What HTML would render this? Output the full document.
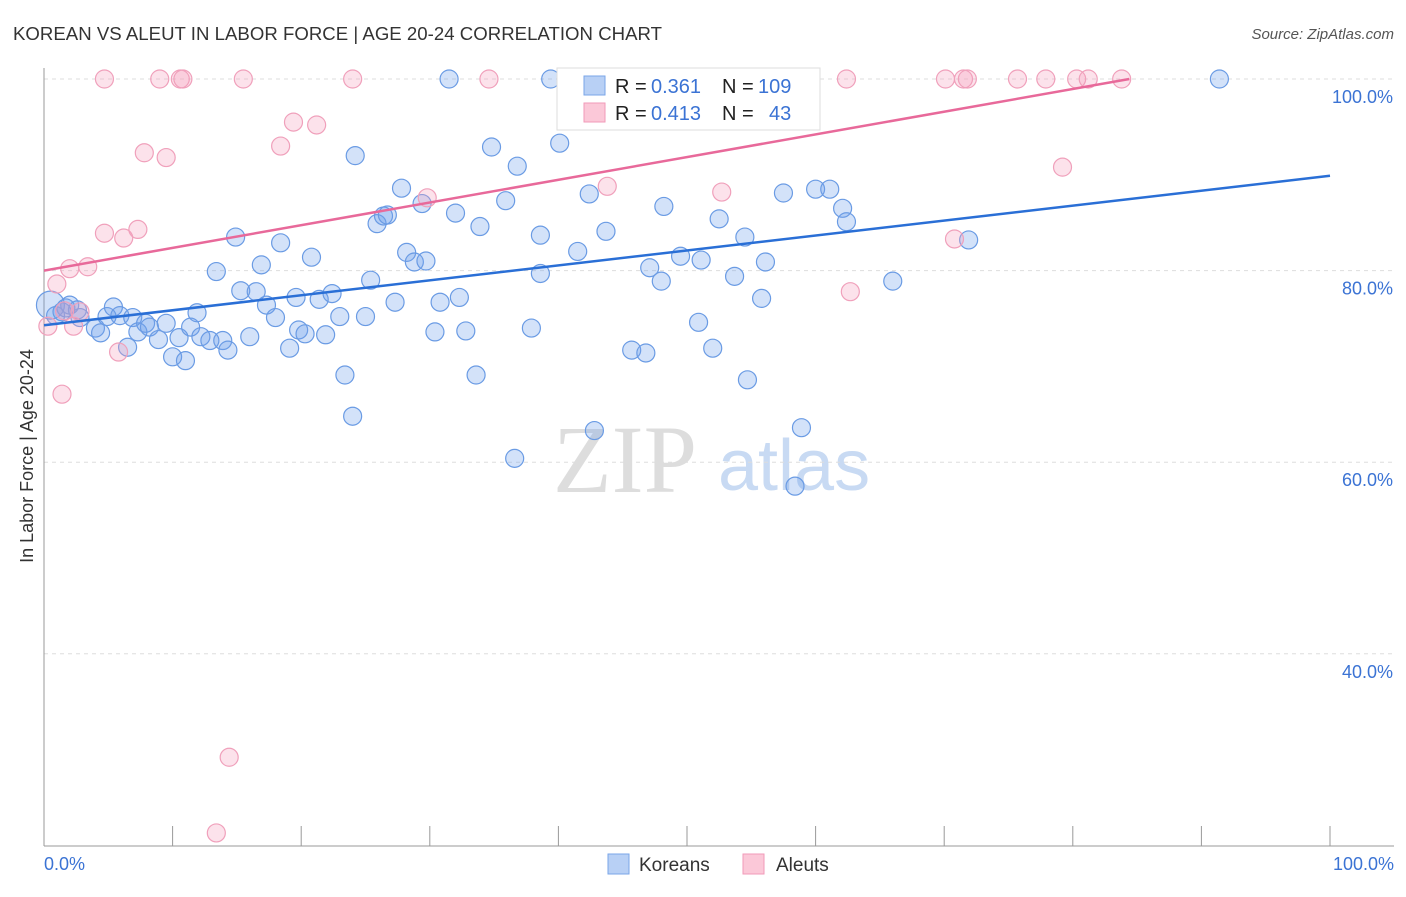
<!DOCTYPE html>
<html><head><meta charset="utf-8"><style>
body{margin:0;background:#fff;font-family:"Liberation Sans",sans-serif}
svg text{font-family:"Liberation Sans",sans-serif}
</style></head><body>
<svg id="chart" width="1406" height="892" xmlns="http://www.w3.org/2000/svg">
<text x="13" y="40" font-size="18.6" fill="#333" textLength="649">KOREAN VS ALEUT IN LABOR FORCE | AGE 20-24 CORRELATION CHART</text>
<text x="1394" y="39" font-size="15" fill="#555" text-anchor="end" font-style="italic">Source: ZipAtlas.com</text>
<text x="553" y="492" font-size="96" fill="#ddd" font-family="Liberation Serif" style="font-family:'Liberation Serif',serif">ZIP</text>
<text x="718" y="490" font-size="72" fill="#c8daf3">atlas</text>
<g id="grid"></g><g id="pts"></g><g id="lines"></g>
<text transform="translate(33,456) rotate(-90)" font-size="18" fill="#333" text-anchor="middle">In Labor Force | Age 20-24</text>
<g>
<rect x="557" y="68" width="263" height="62" fill="#fff" stroke="#ddd"/>
<rect x="584" y="76" width="21" height="19" fill="#b8d0f5" stroke="#7aa6e8"/>
<rect x="584" y="103" width="21" height="19" fill="#fbc8d8" stroke="#f29ab8"/>
<text x="615" y="93" font-size="20" fill="#222">R =</text>
<text x="651" y="93" font-size="20" fill="#3b73d4">0.361</text>
<text x="722" y="93" font-size="20" fill="#222">N =</text>
<text x="758" y="93" font-size="20" fill="#3b73d4">109</text>
<text x="615" y="120" font-size="20" fill="#222">R =</text>
<text x="651" y="120" font-size="20" fill="#3b73d4">0.413</text>
<text x="722" y="120" font-size="20" fill="#222">N =</text>
<text x="769" y="120" font-size="20" fill="#3b73d4">43</text>
</g>
<g>
<rect x="608" y="854" width="21" height="20" fill="#b8d0f5" stroke="#7aa6e8"/>
<text x="639" y="871" font-size="19" fill="#333">Koreans</text>
<rect x="743" y="854" width="21" height="20" fill="#fbc8d8" stroke="#f29ab8"/>
<text x="776" y="871" font-size="19" fill="#333">Aleuts</text>
</g>
</svg>
<script>
const yTicks=[100,80,60,40];
const yTickLabels=["100.0%","80.0%","60.0%","40.0%"];
const xTicks=[0,10,20,30,40,50,60,70,80,90,100];
const koreanX=[0.5,0.9,1.4,2.0,2.6,2.8,4.0,4.4,4.9,5.4,5.9,6.5,6.9,7.3,7.9,8.2,8.9,9.5,10.0,10.5,11.0,11.4,11.9,12.2,12.9,13.4,13.9,14.3,14.9,16.0,15.3,16.5,16.9,17.3,18.0,18.4,19.1,19.6,19.8,20.3,20.8,21.4,21.9,22.4,23.0,23.4,24.0,24.2,25.0,25.4,25.9,26.4,26.7,27.3,27.8,28.2,28.8,29.7,29.4,30.4,30.8,31.5,32.0,32.3,32.8,33.6,33.9,34.8,35.9,36.6,36.8,37.9,38.6,38.6,39.4,40.1,41.5,42.4,42.8,43.7,45.7,46.8,47.1,48.0,48.2,49.5,50.9,51.1,52.0,52.5,53.7,54.5,54.7,55.8,56.1,57.5,58.4,58.9,60.0,61.1,62.1,62.4,66.0,71.9,91.4,1.7];
const koreanY=[76.4,75.3,75.7,76.4,75.9,75.1,74.0,73.5,75.2,76.2,75.3,72.0,75.1,73.6,74.5,74.1,72.8,74.5,71.0,73.0,70.6,74.1,75.6,73.1,72.7,79.9,72.7,71.7,83.5,73.1,77.9,77.8,80.6,76.4,75.1,82.9,71.9,77.2,73.8,73.4,81.4,77.0,73.3,77.6,75.2,69.1,64.8,92.0,75.2,79.0,84.9,85.7,85.8,76.7,88.6,81.9,80.9,81.0,87.0,73.6,76.7,100,86.0,77.2,73.7,69.1,84.6,92.9,87.3,60.4,90.9,74.0,83.7,79.7,100,93.3,82.0,88.0,63.3,84.1,71.7,71.4,80.3,78.9,86.7,81.5,74.6,81.1,71.9,85.4,79.4,83.5,68.6,77.1,80.9,88.1,57.5,63.6,88.5,88.5,86.5,85.1,78.9,83.2,100,76.1];
const aleutX=[0.3,1.0,1.4,2.0,2.3,3.4,4.7,4.7,5.8,6.2,7.3,7.8,9.0,9.5,10.6,10.8,14.4,13.4,15.5,18.4,19.4,21.2,24.0,29.8,34.6,43.8,47.0,52.7,55.6,62.4,62.7,70.1,70.8,71.5,71.8,75.7,77.9,79.2,80.3,81.2,83.8,2.8,1.6];
const aleutY=[74.2,78.6,67.1,80.2,74.2,80.4,100,83.9,71.5,83.4,84.3,92.3,100,91.8,100,100,29.2,21.3,100,93.0,95.5,95.2,100,87.6,100,88.8,100,88.2,100,100,77.8,100,83.3,100,100,100,100,90.8,100,100,100,75.7,75.8];
const koreanTrend=[[0,74.3],[100,89.9]];
const aleutTrend=[[0,80.0],[84.4,100]];
const NS="http://www.w3.org/2000/svg";
const X=v=>44+v*12.86, Y=v=>79+(100-v)*9.58;
function mk(t,a,p){const e=document.createElementNS(NS,t);for(const k in a)e.setAttribute(k,a[k]);p.appendChild(e);return e;}
const g=document.getElementById('grid');
yTicks.forEach((t,i)=>{
 const l=mk('line',{x1:44,x2:1394,y1:Y(t),y2:Y(t),stroke:'#ddd','stroke-dasharray':'4,4'},g);
 
 
 const tx=mk('text',{x:1393,y:Y(t)+24,'font-size':18,fill:'#3b73d4','text-anchor':'end'},g);
 tx.textContent=yTickLabels[i];
 
 
});
const ax=mk('line',{x1:44,x2:44,y1:68,y2:846,stroke:'#999'},g);


const bx=mk('line',{x1:44,x2:1394,y1:846,y2:846,stroke:'#999'},g);


xTicks.forEach(t=>{const l=mk('line',{x1:X(t),x2:X(t),y1:826,y2:846,stroke:'#999'},g);
 
 });
const x0=mk('text',{x:44,y:870,'font-size':18,fill:'#3b73d4'},g);x0.textContent='0.0%';


const x1=mk('text',{x:1394,y:870,'font-size':18,fill:'#3b73d4','text-anchor':'end'},g);x1.textContent='100.0%';


const p=document.getElementById('pts');
koreanX.forEach((v,i)=>{const c=mk('circle',{cx:X(v),cy:Y(koreanY[i]),r:i===0?14:9,fill:'rgba(110,160,235,0.3)',stroke:'#6a9be4','stroke-width':1.2},p);
 
 });
aleutX.forEach((v,i)=>{const c=mk('circle',{cx:X(v),cy:Y(aleutY[i]),r:9,fill:'rgba(245,160,190,0.3)',stroke:'#f0a0bb','stroke-width':1.2},p);
 
 });
const L=document.getElementById('lines');
const kl=mk('line',{x1:X(koreanTrend[0][0]),y1:Y(koreanTrend[0][1]),x2:X(koreanTrend[1][0]),y2:Y(koreanTrend[1][1]),stroke:'#2a6fd6','stroke-width':2.5},L);


const al=mk('line',{x1:X(aleutTrend[0][0]),y1:Y(aleutTrend[0][1]),x2:X(aleutTrend[1][0]),y2:Y(aleutTrend[1][1]),stroke:'#e8699a','stroke-width':2.5},L);


</script>
</body></html>
